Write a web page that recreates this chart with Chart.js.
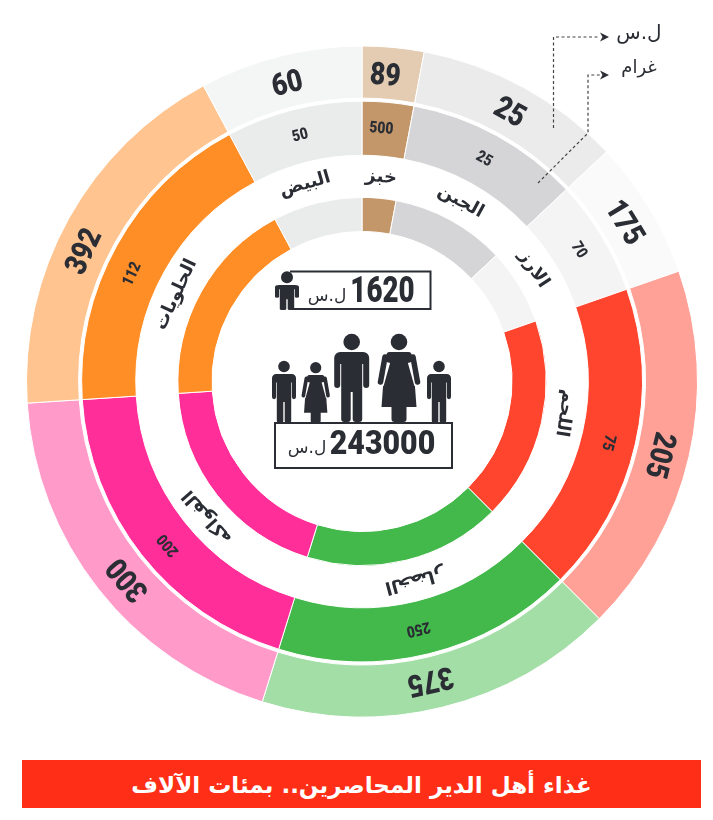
<!DOCTYPE html>
<html lang="ar">
<head>
  <meta charset="UTF-8" />
  <title>غذاء أهل الدير المحاصرين</title>
  <style>
    body { margin: 0; background: #fff; }
    .page { position: relative; width: 713px; height: 820px; overflow: hidden; }
    canvas { position: absolute; left: 0; top: 0; }
    .banner {
      position: absolute; left: 22px; top: 760px; width: 679px; height: 48px;
      background: #ff2e16; color: #fff; text-align: center; direction: rtl;
      font: bold 23px/50px "DejaVu Sans", sans-serif;
    }
  </style>
</head>
<body>
  <div class="page">
    <canvas id="foodChart" width="713" height="820"></canvas>
    <div class="banner">غذاء أهل الدير المحاصرين.. بمئات الآلاف</div>
  </div>

  <script src="https://cdn.jsdelivr.net/npm/chart.js"></script>
  <script>
    const categories = ['خبز', 'الجبن', 'الارز', 'اللحم', 'الخضار', 'الفواكه', 'الحلويات', 'البيض'];
    // printed numbers, the rings in the picture are not drawn in proportion to them
    const pricePerKilo = [89, 25, 175, 205, 375, 300, 392, 60];
    const gramsPerDay = [500, 25, 70, 75, 250, 200, 112, 50];
    // slice widths in degrees, same in all three rings
    const sliceShares = [10.7, 36.1, 24, 64.2, 62.3, 69, 65.5, 28.2];
    const personTotal = '1620';
    const familyTotal = '243000';
    const currencyLabel = 'ل.س';
    const gramLabel = 'غرام';

    const paleColors = ['#e3ccb1', '#ebebeb', '#fafafa', '#ffa196', '#a2dea6', '#ff9ac9', '#ffc48f', '#f4f6f5'];
    const strongColors = ['#c4976a', '#d5d5d7', '#f4f4f4', '#ff452e', '#42b94a', '#ff2e98', '#ff8e26', '#eaebeb'];
    const ink = '#2a2d34';
    const numberFont = 'Roboto, sans-serif';
    const arabicFont = '"DejaVu Sans", sans-serif';
    // the labels do not sit exactly on the slice middle, degrees off it
    const numberNudge = [-1, 0, 0, 1, 1, -2, -4, 0];
    const categoryNudge = [0, 0, -2, -4, -1, -3, -4, -2];

    function ringText(ctx, meta, texts, font, dir, nudge, inset, squeeze) {
      meta.data.forEach((arc, i) => {
        const p = arc.getProps(['x', 'y', 'startAngle', 'endAngle', 'innerRadius', 'outerRadius'], true);
        const mid = (p.startAngle + p.endAngle) / 2 + nudge[i] * Math.PI / 180;
        const r = (p.innerRadius + p.outerRadius) / 2 - inset;
        ctx.save();
        ctx.translate(p.x + Math.cos(mid) * r, p.y + Math.sin(mid) * r);
        ctx.rotate(mid + Math.PI / 2);
        ctx.scale(squeeze, 1);
        ctx.font = font;
        ctx.direction = dir;
        ctx.fillStyle = ink;
        ctx.textAlign = 'center';
        ctx.textBaseline = 'middle';
        ctx.fillText(String(texts[i]), 0, 0);
        ctx.restore();
      });
    }

    function put(ctx, text, x, y, font, dir, squeeze) {
      ctx.save();
      ctx.translate(x, y);
      ctx.scale(squeeze || 1, 1);
      ctx.font = font;
      ctx.direction = dir;
      ctx.fillStyle = ink;
      ctx.textAlign = 'center';
      ctx.textBaseline = 'middle';
      ctx.fillText(text, 0, 0);
      ctx.restore();
    }

    function drawMan(ctx, cx, shoulderY, footY, width, headR) {
      ctx.save();
      ctx.fillStyle = ink;
      ctx.beginPath();
      ctx.arc(cx, shoulderY - headR - 1.7, headR, 0, Math.PI * 2);
      ctx.fill();
      ctx.translate(cx, shoulderY);
      ctx.scale(width / 35, (footY - shoulderY) / 70);
      ctx.beginPath();
      ctx.roundRect(-17.5, 0, 35, 12, [6, 6, 0, 0]);
      ctx.roundRect(-17.5, 6, 6, 30, 3);
      ctx.roundRect(11.5, 6, 6, 30, 3);
      ctx.rect(-10.5, 6, 21, 34);
      ctx.roundRect(-10.5, 38, 9.5, 32, [0, 0, 3, 3]);
      ctx.roundRect(1, 38, 9.5, 32, [0, 0, 3, 3]);
      ctx.fill();
      ctx.restore();
    }

    function drawWoman(ctx, cx, shoulderY, footY, width, headR) {
      ctx.save();
      ctx.fillStyle = ink;
      ctx.beginPath();
      ctx.arc(cx, shoulderY - headR - 1.7, headR, 0, Math.PI * 2);
      ctx.fill();
      ctx.translate(cx, shoulderY);
      ctx.scale(width / 42, (footY - shoulderY) / 70);
      ctx.beginPath();
      ctx.moveTo(-10, 0);
      ctx.lineTo(10, 0);
      ctx.quadraticCurveTo(13, 0, 14, 8);
      ctx.lineTo(17.5, 55);
      ctx.lineTo(-17.5, 55);
      ctx.lineTo(-14, 8);
      ctx.quadraticCurveTo(-13, 0, -10, 0);
      ctx.fill();
      ctx.beginPath();
      ctx.roundRect(-7.5, 54, 15, 16, [0, 0, 3, 3]);
      ctx.fill();
      [-1, 1].forEach(side => {
        ctx.strokeStyle = '#fff';
        ctx.lineWidth = 7.5;
        ctx.lineCap = 'butt';
        ctx.beginPath();
        ctx.moveTo(side * 12.5, 10);
        ctx.lineTo(side * 19, 33);
        ctx.stroke();
        ctx.strokeStyle = ink;
        ctx.lineWidth = 5.5;
        ctx.lineCap = 'round';
        ctx.beginPath();
        ctx.moveTo(side * 14, 5);
        ctx.lineTo(side * 18.5, 30);
        ctx.stroke();
      });
      ctx.restore();
    }

    function arrowHead(ctx, x, y) {
      ctx.beginPath();
      ctx.moveTo(x - 9, y - 4.5);
      ctx.lineTo(x, y);
      ctx.lineTo(x - 9, y + 4.5);
      ctx.lineTo(x - 6.5, y);
      ctx.closePath();
      ctx.fill();
    }

    const overlayPlugin = {
      id: 'overlay',
      afterDatasetsDraw(chart) {
        const ctx = chart.ctx;
        ctx.save();
        ringText(ctx, chart.getDatasetMeta(0), pricePerKilo, '900 31px ' + numberFont, 'ltr', numberNudge, 4, 0.86);
        ringText(ctx, chart.getDatasetMeta(2), gramsPerDay, '900 16px ' + numberFont, 'ltr', numberNudge, 0, 0.86);
        ringText(ctx, chart.getDatasetMeta(3), categories, 'bold 18px ' + arabicFont, 'rtl', categoryNudge, 0, 1);

        // totals boxes
        ctx.strokeStyle = ink;
        ctx.lineWidth = 2;
        ctx.beginPath();
        ctx.moveTo(290, 271.5);
        ctx.lineTo(430.5, 271.5);
        ctx.lineTo(430.5, 309);
        ctx.lineTo(290, 309);
        ctx.stroke();
        ctx.strokeRect(275, 423, 177, 45);
        put(ctx, personTotal, 382.5, 293, '900 36px ' + numberFont, 'ltr', 0.77);
        put(ctx, familyTotal, 382.5, 446, '900 33px ' + numberFont, 'ltr', 0.92);
        put(ctx, currencyLabel, 327, 297, '17px ' + arabicFont, 'rtl');
        put(ctx, currencyLabel, 307, 449, '17px ' + arabicFont, 'rtl');

        // people
        drawMan(ctx, 287, 285, 310, 24, 6);
        drawMan(ctx, 284, 374, 423, 24, 5.8);
        drawWoman(ctx, 315.7, 375, 423, 28, 5.6);
        drawMan(ctx, 351.7, 352, 422, 35, 8.3);
        drawWoman(ctx, 399, 352, 422, 42, 8.3);
        drawMan(ctx, 439, 374, 423, 24, 5.8);

        // unit key with dotted leaders
        ctx.strokeStyle = '#444';
        ctx.fillStyle = ink;
        ctx.lineWidth = 1.2;
        ctx.setLineDash([3, 2.5]);
        ctx.beginPath();
        ctx.moveTo(553.5, 128);
        ctx.lineTo(553.5, 37);
        ctx.lineTo(600, 37);
        ctx.moveTo(538, 183);
        ctx.lineTo(588, 133);
        ctx.lineTo(588, 75);
        ctx.lineTo(600, 75);
        ctx.stroke();
        ctx.setLineDash([]);
        arrowHead(ctx, 609, 37);
        arrowHead(ctx, 609, 75);
        put(ctx, currencyLabel, 639, 34, '20px ' + arabicFont, 'rtl');
        put(ctx, gramLabel, 639, 68, '18px ' + arabicFont, 'rtl');
        ctx.restore();
      }
    };

    const spacer = (weight) => ({
      data: sliceShares,
      weight: weight,
      backgroundColor: 'rgba(0,0,0,0)',
      borderWidth: 0
    });

    new Chart(document.getElementById('foodChart').getContext('2d'), {
      type: 'doughnut',
      data: {
        labels: categories,
        datasets: [
          { data: sliceShares, weight: 52, backgroundColor: paleColors, borderColor: '#fff', borderWidth: 1 },
          spacer(3),
          { data: sliceShares, weight: 54, backgroundColor: strongColors, borderColor: '#fff', borderWidth: 1 },
          spacer(42),
          { data: sliceShares, weight: 34, backgroundColor: strongColors, borderColor: '#fff', borderWidth: 1 }
        ]
      },
      options: {
        responsive: false,
        animation: false,
        cutout: 150,
        hoverOffset: 0,
        layout: { padding: { left: 26, right: 15, top: 45, bottom: 102 } },
        plugins: { legend: { display: false }, tooltip: { enabled: false } }
      },
      plugins: [overlayPlugin]
    });
  </script>
</body>
</html>
